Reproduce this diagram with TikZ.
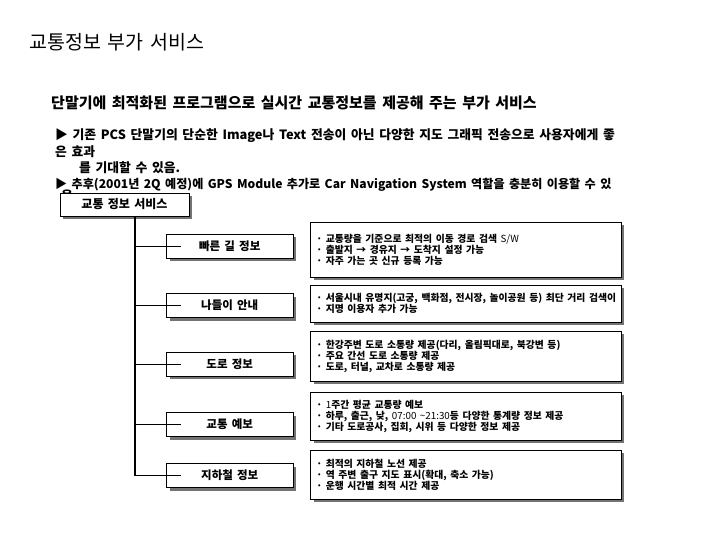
\documentclass[tikz,border=0pt]{standalone}
\usepackage{fontspec}
\setmainfont{Noto Sans CJK KR}[WordSpace=1.6, BoldFont={Noto Sans CJK KR Black}]
\usetikzlibrary{shadows}
\begin{document}
\begin{tikzpicture}[x=1pt,y=-1pt,
  box/.style={draw=black, line width=0.9pt, fill=white, inner sep=0pt,
    drop shadow={shadow xshift=3pt, shadow yshift=-3pt, fill=black!55, opacity=1}},
  lbox/.style={box, minimum width=126.5pt, minimum height=24pt, font=\bfseries\fontsize{11.5}{11.5}\selectfont},
  rbox/.style={box, minimum width=310.5pt},
  rtext/.style={anchor=west, inner sep=0pt, align=left, font=\bfseries\fontsize{9.8}{11}\selectfont},
  line/.style={anchor=west, inner sep=0pt, font=\bfseries\fontsize{12.8}{12.8}\selectfont},
  conn/.style={line width=0.8pt},
  trunk/.style={line width=1.6pt}]
\useasboundingbox (0,0) rectangle (720,540);

% titles
\node[anchor=west, inner sep=0pt, font=\fontsize{19.5}{19.5}\selectfont] (title) at (29,42) {교통정보 부가 서비스};
\node[anchor=west, inner sep=0pt, font=\bfseries\fontsize{15}{15}\selectfont] (sub) at (51,103) {단말기에 최적화된 프로그램으로 실시간 교통정보를 제공해 주는 부가 서비스};

\node[line] (l1) at (55,136) {▶ 기존 PCS 단말기의 단순한 Image나 Text 전송이 아닌 다양한 지도 그래픽 전송으로 사용자에게 좋};
\node[line] (l2) at (55,152) {은 효과};
\node[line] (l3) at (79,168) {를 기대할 수 있음.};
\node[line, font=\bfseries\fontsize{12.1}{12.1}\selectfont] (l4) at (55,185) {▶ 추후(2001년 2Q 예정)에 GPS Module 추가로 Car Navigation System 역할을 충분히 이용할 수 있};
\node[line] (l5) at (61,196) {음};

% header
\node[box, minimum width=129pt, minimum height=23pt, font=\bfseries\fontsize{12}{12}\selectfont] (hdr) at (124.5,204.5) {교통 정보 서비스};

% trunk
\coordinate (tt) at (135,216);

% left boxes
\node[lbox] (L1) at (229.75,246) {빠른 길 정보};
\node[lbox] (L2) at (229.75,305.5) {나들이 안내};
\node[lbox] (L3) at (229.75,364) {도로 정보};
\node[lbox] (L4) at (229.75,424.5) {교통 예보};
\node[lbox] (L5) at (229.75,475.5) {지하철 정보};

\draw[trunk] (tt) -- (tt |- L5.west);
\foreach \n in {L1,L2,L3,L4,L5}
  \draw[conn] (tt |- \n.west) -- ([xshift=15pt]\n.west);

% right boxes
\node[rbox, minimum height=55pt] (R1) at (465.75,249.5) {};
\node[rbox, minimum height=37pt] (R2) at (465.75,303.5) {};
\node[rbox, minimum height=50pt] (R3) at (465.75,356) {};
\node[rbox, minimum height=48pt] (R4) at (465.75,416) {};
\node[rbox, minimum height=49pt] (R5) at (465.75,474.5) {};

\node[rtext] (T1) at ([xshift=6pt]R1.west) {· 교통량을 기준으로 최적의 이동 경로 검색 {\mdseries S/W}\\· 출발지 → 경유지 → 도착지 설정 가능\\· 자주 가는 곳 신규 등록 가능};
\node[rtext] (T2) at ([xshift=6pt]R2.west) {· 서울시내 유명지(고궁, 백화점, 전시장, 놀이공원 등) 최단 거리 검색이\\· 지명 이용자 추가 가능};
\node[rtext] (T3) at ([xshift=6pt]R3.west) {· 한강주변 도로 소통량 제공(다리, 올림픽대로, 북강변 등)\\· 주요 간선 도로 소통량 제공\\· 도로, 터널, 교차로 소통량 제공};
\node[rtext] (T4) at ([xshift=6pt]R4.west) {· {\mdseries 1}주간 평균 교통량 예보\\· 하루, 출근, 낮, {\mdseries 07:00 \textasciitilde 21:30}등 다양한 통계량 정보 제공\\· 기타 도로공사, 집회, 시위 등 다양한 정보 제공};
\node[rtext] (T5) at ([xshift=6pt]R5.west) {· 최적의 지하철 노선 제공\\· 역 주변 출구 지도 표시(확대, 축소 가능)\\· 운행 시간별 최적 시간 제공};
\end{tikzpicture}
\end{document}
